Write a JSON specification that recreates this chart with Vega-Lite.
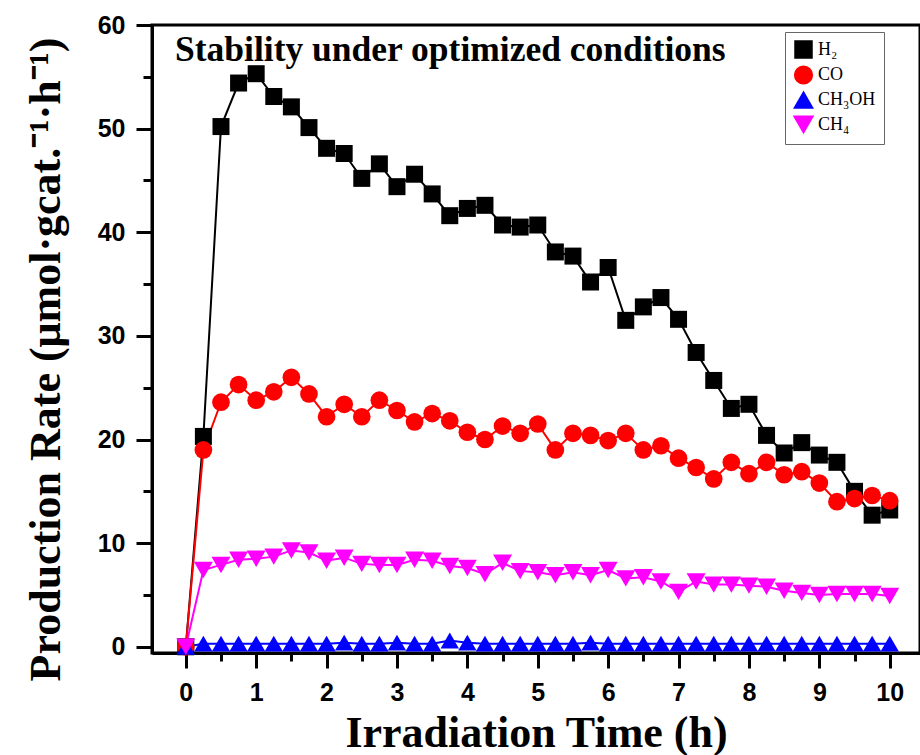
{
  "$schema": "https://vega.github.io/schema/vega-lite/v6.json",
  "width": 768,
  "height": 628,
  "autosize": {"type": "none"},
  "padding": {"left": 152, "top": 25, "right": 0, "bottom": 102},
  "background": "white",
  "title": {
    "text": "Stability under optimized conditions",
    "anchor": "start",
    "frame": "group",
    "orient": "top",
    "offset": -55,
    "dx": 23,
    "font": "Liberation Serif",
    "fontSize": 35.5,
    "fontWeight": "bold",
    "color": "black"
  },
  "config": {
    "view": {"stroke": "black", "strokeWidth": 3},
    "axis": {
      "domainColor": "black",
      "domainWidth": 3,
      "tickColor": "black",
      "tickWidth": 3,
      "grid": false,
      "labelFont": "Liberation Sans",
      "labelFontWeight": "bold",
      "labelFontSize": 25,
      "labelColor": "black",
      "titleFont": "Liberation Serif",
      "titleFontWeight": "bold",
      "titleFontSize": 44,
      "titleColor": "black"
    }
  },
  "data": {
    "values": [
      {"t":0,"g":"H₂","v":0},{"t":0.25,"g":"H₂","v":20.3},{"t":0.5,"g":"H₂","v":50.2},{"t":0.75,"g":"H₂","v":54.4},{"t":1,"g":"H₂","v":55.3},{"t":1.25,"g":"H₂","v":53.1},{"t":1.5,"g":"H₂","v":52.1},{"t":1.75,"g":"H₂","v":50.1},{"t":2,"g":"H₂","v":48.1},{"t":2.25,"g":"H₂","v":47.6},{"t":2.5,"g":"H₂","v":45.2},{"t":2.75,"g":"H₂","v":46.6},{"t":3,"g":"H₂","v":44.4},{"t":3.25,"g":"H₂","v":45.6},{"t":3.5,"g":"H₂","v":43.7},{"t":3.75,"g":"H₂","v":41.6},{"t":4,"g":"H₂","v":42.3},{"t":4.25,"g":"H₂","v":42.6},{"t":4.5,"g":"H₂","v":40.7},{"t":4.75,"g":"H₂","v":40.5},{"t":5,"g":"H₂","v":40.7},{"t":5.25,"g":"H₂","v":38.1},{"t":5.5,"g":"H₂","v":37.7},{"t":5.75,"g":"H₂","v":35.2},{"t":6,"g":"H₂","v":36.6},{"t":6.25,"g":"H₂","v":31.5},{"t":6.5,"g":"H₂","v":32.8},{"t":6.75,"g":"H₂","v":33.7},{"t":7,"g":"H₂","v":31.6},{"t":7.25,"g":"H₂","v":28.4},{"t":7.5,"g":"H₂","v":25.7},{"t":7.75,"g":"H₂","v":23.0},{"t":8,"g":"H₂","v":23.4},{"t":8.25,"g":"H₂","v":20.4},{"t":8.5,"g":"H₂","v":18.7},{"t":8.75,"g":"H₂","v":19.7},{"t":9,"g":"H₂","v":18.5},{"t":9.25,"g":"H₂","v":17.8},{"t":9.5,"g":"H₂","v":15.0},{"t":9.75,"g":"H₂","v":12.7},{"t":10,"g":"H₂","v":13.2},
      {"t":0,"g":"CO","v":0},{"t":0.25,"g":"CO","v":19.0},{"t":0.5,"g":"CO","v":23.6},{"t":0.75,"g":"CO","v":25.3},{"t":1,"g":"CO","v":23.8},{"t":1.25,"g":"CO","v":24.6},{"t":1.5,"g":"CO","v":26.0},{"t":1.75,"g":"CO","v":24.4},{"t":2,"g":"CO","v":22.2},{"t":2.25,"g":"CO","v":23.4},{"t":2.5,"g":"CO","v":22.2},{"t":2.75,"g":"CO","v":23.8},{"t":3,"g":"CO","v":22.8},{"t":3.25,"g":"CO","v":21.7},{"t":3.5,"g":"CO","v":22.5},{"t":3.75,"g":"CO","v":21.8},{"t":4,"g":"CO","v":20.7},{"t":4.25,"g":"CO","v":20.0},{"t":4.5,"g":"CO","v":21.3},{"t":4.75,"g":"CO","v":20.6},{"t":5,"g":"CO","v":21.5},{"t":5.25,"g":"CO","v":19.0},{"t":5.5,"g":"CO","v":20.6},{"t":5.75,"g":"CO","v":20.4},{"t":6,"g":"CO","v":19.9},{"t":6.25,"g":"CO","v":20.6},{"t":6.5,"g":"CO","v":19.0},{"t":6.75,"g":"CO","v":19.4},{"t":7,"g":"CO","v":18.2},{"t":7.25,"g":"CO","v":17.3},{"t":7.5,"g":"CO","v":16.2},{"t":7.75,"g":"CO","v":17.8},{"t":8,"g":"CO","v":16.7},{"t":8.25,"g":"CO","v":17.8},{"t":8.5,"g":"CO","v":16.6},{"t":8.75,"g":"CO","v":16.9},{"t":9,"g":"CO","v":15.8},{"t":9.25,"g":"CO","v":14.0},{"t":9.5,"g":"CO","v":14.3},{"t":9.75,"g":"CO","v":14.6},{"t":10,"g":"CO","v":14.1},
      {"t":0,"g":"CH₃OH","v":0},{"t":0.25,"g":"CH₃OH","v":0.3},{"t":0.5,"g":"CH₃OH","v":0.3},{"t":0.75,"g":"CH₃OH","v":0.3},{"t":1,"g":"CH₃OH","v":0.3},{"t":1.25,"g":"CH₃OH","v":0.3},{"t":1.5,"g":"CH₃OH","v":0.3},{"t":1.75,"g":"CH₃OH","v":0.3},{"t":2,"g":"CH₃OH","v":0.3},{"t":2.25,"g":"CH₃OH","v":0.4},{"t":2.5,"g":"CH₃OH","v":0.3},{"t":2.75,"g":"CH₃OH","v":0.3},{"t":3,"g":"CH₃OH","v":0.4},{"t":3.25,"g":"CH₃OH","v":0.3},{"t":3.5,"g":"CH₃OH","v":0.3},{"t":3.75,"g":"CH₃OH","v":0.6},{"t":4,"g":"CH₃OH","v":0.4},{"t":4.25,"g":"CH₃OH","v":0.3},{"t":4.5,"g":"CH₃OH","v":0.3},{"t":4.75,"g":"CH₃OH","v":0.3},{"t":5,"g":"CH₃OH","v":0.3},{"t":5.25,"g":"CH₃OH","v":0.3},{"t":5.5,"g":"CH₃OH","v":0.3},{"t":5.75,"g":"CH₃OH","v":0.4},{"t":6,"g":"CH₃OH","v":0.3},{"t":6.25,"g":"CH₃OH","v":0.3},{"t":6.5,"g":"CH₃OH","v":0.3},{"t":6.75,"g":"CH₃OH","v":0.3},{"t":7,"g":"CH₃OH","v":0.3},{"t":7.25,"g":"CH₃OH","v":0.3},{"t":7.5,"g":"CH₃OH","v":0.3},{"t":7.75,"g":"CH₃OH","v":0.3},{"t":8,"g":"CH₃OH","v":0.3},{"t":8.25,"g":"CH₃OH","v":0.3},{"t":8.5,"g":"CH₃OH","v":0.3},{"t":8.75,"g":"CH₃OH","v":0.3},{"t":9,"g":"CH₃OH","v":0.3},{"t":9.25,"g":"CH₃OH","v":0.3},{"t":9.5,"g":"CH₃OH","v":0.3},{"t":9.75,"g":"CH₃OH","v":0.3},{"t":10,"g":"CH₃OH","v":0.3},
      {"t":0,"g":"CH₄","v":0},{"t":0.25,"g":"CH₄","v":7.4},{"t":0.5,"g":"CH₄","v":7.9},{"t":0.75,"g":"CH₄","v":8.4},{"t":1,"g":"CH₄","v":8.5},{"t":1.25,"g":"CH₄","v":8.7},{"t":1.5,"g":"CH₄","v":9.3},{"t":1.75,"g":"CH₄","v":9.1},{"t":2,"g":"CH₄","v":8.3},{"t":2.25,"g":"CH₄","v":8.6},{"t":2.5,"g":"CH₄","v":8.0},{"t":2.75,"g":"CH₄","v":7.9},{"t":3,"g":"CH₄","v":7.9},{"t":3.25,"g":"CH₄","v":8.4},{"t":3.5,"g":"CH₄","v":8.3},{"t":3.75,"g":"CH₄","v":7.8},{"t":4,"g":"CH₄","v":7.6},{"t":4.25,"g":"CH₄","v":7.0},{"t":4.5,"g":"CH₄","v":8.1},{"t":4.75,"g":"CH₄","v":7.3},{"t":5,"g":"CH₄","v":7.2},{"t":5.25,"g":"CH₄","v":6.9},{"t":5.5,"g":"CH₄","v":7.2},{"t":5.75,"g":"CH₄","v":6.9},{"t":6,"g":"CH₄","v":7.4},{"t":6.25,"g":"CH₄","v":6.6},{"t":6.5,"g":"CH₄","v":6.7},{"t":6.75,"g":"CH₄","v":6.3},{"t":7,"g":"CH₄","v":5.3},{"t":7.25,"g":"CH₄","v":6.3},{"t":7.5,"g":"CH₄","v":6.0},{"t":7.75,"g":"CH₄","v":6.0},{"t":8,"g":"CH₄","v":5.9},{"t":8.25,"g":"CH₄","v":5.8},{"t":8.5,"g":"CH₄","v":5.4},{"t":8.75,"g":"CH₄","v":5.2},{"t":9,"g":"CH₄","v":5.0},{"t":9.25,"g":"CH₄","v":5.1},{"t":9.5,"g":"CH₄","v":5.1},{"t":9.75,"g":"CH₄","v":5.1},{"t":10,"g":"CH₄","v":4.9}
    ]
  },
  "encoding": {
    "x": {
      "field": "t",
      "type": "quantitative",
      "scale": {"domain": [-0.48, 10.43], "nice": false, "zero": false},
      "axis": {
        "title": "Irradiation Time (h)",
        "values": [0,0.5,1,1.5,2,2.5,3,3.5,4,4.5,5,5.5,6,6.5,7,7.5,8,8.5,9,9.5,10],
        "labelExpr": "datum.value % 1 === 0 ? format(datum.value, 'd') : ''",
        "tickSize": {"condition": {"test": "datum.value % 1 === 0", "value": 15}, "value": 8},
        "labelPadding": 12,
        "titlePadding": 6,
        "labelFlush": false
      }
    },
    "y": {
      "field": "v",
      "type": "quantitative",
      "scale": {"domain": [-0.6, 60], "nice": false, "zero": false},
      "axis": {
        "title": "Production Rate (μmol·gcat.⁻¹·h⁻¹)",
        "values": [0,5,10,15,20,25,30,35,40,45,50,55,60],
        "labelExpr": "datum.value % 10 === 0 ? format(datum.value, 'd') : ''",
        "tickSize": {"condition": {"test": "datum.value % 10 === 0", "value": 16}, "value": 9},
        "labelPadding": 11,
        "titlePadding": 29,
        "titleY": 334,
        "labelFlush": false
      }
    },
    "color": {
      "field": "g",
      "type": "nominal",
      "sort": null,
      "scale": {"domain": ["H₂","CO","CH₃OH","CH₄"], "range": ["#000000","#ff0000","#0000ff","#ff00ff"]},
      "legend": {
        "title": null,
        "orient": "none",
        "legendX": 633,
        "legendY": 7,
        "fillColor": "white",
        "strokeColor": "#666666",
        "padding": 8,
        "labelFont": "Liberation Serif",
        "labelFontSize": 18,
        "labelColor": "black",
        "labelOffset": 4,
        "symbolOpacity": 1,
        "rowPadding": 2
      }
    }
  },
  "layer": [
    {
      "mark": {"type": "line", "strokeWidth": 2},
      "encoding": {"detail": {"field": "g"}}
    },
    {
      "mark": {"type": "point", "filled": true, "opacity": 1, "strokeWidth": 0},
      "encoding": {
        "shape": {
          "field": "g",
          "type": "nominal",
          "sort": null,
          "scale": {"domain": ["H₂","CO","CH₃OH","CH₄"], "range": ["square","circle","triangle-up","triangle-down"]}
        },
        "size": {
          "field": "g",
          "type": "nominal",
          "sort": null,
          "scale": {"domain": ["H₂","CO","CH₃OH","CH₄"], "range": [289, 361, 400, 400]},
          "legend": null
        }
      }
    }
  ]
}
